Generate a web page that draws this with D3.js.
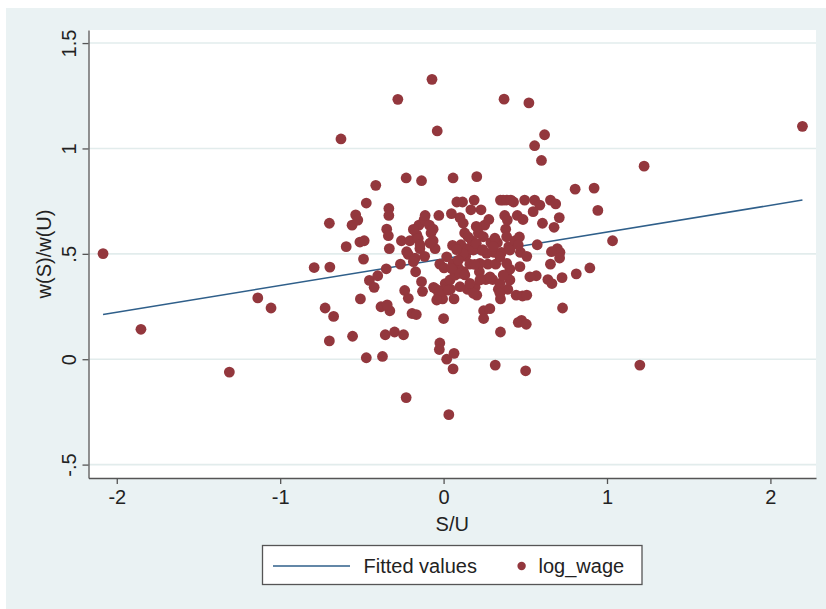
<!DOCTYPE html>
<html><head><meta charset="utf-8">
<script src="https://cdn.jsdelivr.net/npm/d3@7"></script>
<style>html,body{margin:0;padding:0;background:#fff}svg{display:block}</style>
</head><body>
<script>
// Scatter of w(S)/w(U) against S/U with a fitted regression line
const xVals = [
-2.084,-1.852,-1.311,-1.137,-1.056,-0.792,-0.725,-0.696,-0.699,-0.673,
-0.699,-0.628,-0.596,-0.560,-0.538,-0.525,-0.557,-0.509,-0.512,-0.486,
-0.490,-0.473,-0.473,-0.454,-0.425,-0.415,-0.403,-0.383,-0.374,-0.357,
-0.351,-0.335,-0.335,-0.332,-0.348,-0.338,-0.329,-0.345,-0.300,-0.280,
-0.264,-0.258,-0.245,-0.238,-0.229,-0.229,-0.216,-0.216,-0.206,-0.193,
-0.167,-0.171,-0.174,-0.164,-0.151,-0.145,-0.135,-0.135,-0.129,-0.119,
-0.116,-0.113,-0.087,-0.077,-0.071,-0.064,-0.064,-0.061,-0.052,-0.045,
-0.039,-0.029,-0.029,-0.023,-0.023,-0.026,-0.006,0.000,0.003,0.010,
0.019,0.032,0.042,0.048,0.055,0.058,0.058,0.064,0.064,0.074,
0.081,0.090,0.100,0.106,0.116,0.122,0.129,0.135,0.145,0.148,
0.161,0.167,0.174,0.187,0.193,0.203,0.203,0.213,0.219,0.229,
0.235,0.245,0.245,0.251,0.258,0.271,0.277,0.283,0.290,0.300,
0.309,0.316,0.319,0.329,0.335,0.348,0.348,0.348,0.354,0.364,
0.370,0.374,0.380,0.386,0.386,0.393,0.399,0.412,0.406,0.428,
0.438,0.444,0.451,0.457,0.464,0.470,0.477,0.483,0.486,0.496,
0.502,0.506,0.509,0.522,0.509,0.548,0.557,0.557,0.567,0.573,
0.589,0.599,0.605,0.618,0.638,0.654,0.654,0.663,0.676,0.686,
0.696,0.708,0.712,0.725,0.728,0.805,0.812,0.895,0.921,0.944,
1.034,1.201,1.227,2.196,
0.390,0.120,0.200,0.243,0.314,0.386,0.660,0.710,0.019,0.059,
0.182,0.222,0.263,0.304,0.345,0.386,0.406,0.467,0.528,0.406,
0.345,0.284,0.222,0.161,0.100,0.039,-0.002,0.345,0.182,-0.185,
-0.083,-0.155,-0.226,-0.144,-0.185,-0.022,0.029,0.070,0.100,-0.042,
0.365,0.457,0.120,0.150,0.190,0.080,0.050,0.130,0.200,0.240,0.090
];
const yVals = [
0.501,0.142,-0.061,0.291,0.243,0.435,0.243,0.437,0.645,0.203,
0.087,1.045,0.534,0.636,0.685,0.660,0.109,0.286,0.556,0.562,
0.475,0.741,0.007,0.374,0.341,0.825,0.396,0.249,0.013,0.116,
0.429,0.715,0.682,0.525,0.617,0.586,0.230,0.258,0.129,1.233,
0.451,0.562,0.116,0.326,0.860,-0.182,0.289,0.497,0.562,0.217,
0.212,0.415,0.479,0.590,0.636,0.525,0.847,0.368,0.322,0.663,
0.488,0.682,0.636,0.599,1.328,0.617,0.562,0.341,0.525,0.332,
1.083,0.682,0.304,0.451,0.077,0.046,0.286,0.193,0.433,0.359,
0.000,-0.263,0.332,0.691,0.540,0.860,-0.046,0.028,0.286,0.451,
0.746,0.433,0.672,0.543,0.746,0.415,0.599,0.488,0.332,0.525,
0.451,0.709,0.562,0.755,0.341,0.866,0.304,0.599,0.415,0.709,
0.516,0.230,0.193,0.636,0.378,0.451,0.663,0.240,0.553,0.378,
0.507,-0.028,0.451,0.553,0.332,0.755,0.286,0.129,0.507,0.755,
1.234,0.682,0.617,0.396,0.755,0.332,0.534,0.755,0.427,0.746,
0.562,0.304,0.682,0.175,0.580,0.507,0.184,0.300,0.663,0.755,
-0.055,0.166,0.488,1.216,0.304,0.700,1.013,0.755,0.396,0.543,
0.731,0.943,0.645,1.065,0.378,0.755,0.451,0.359,0.626,0.737,
0.525,0.672,0.507,0.387,0.243,0.807,0.405,0.433,0.812,0.706,
0.562,-0.028,0.916,1.105,
0.660,0.645,0.630,0.581,0.574,0.581,0.510,0.480,0.486,0.455,
0.518,0.455,0.502,0.534,0.486,0.455,0.518,0.439,0.391,0.376,
0.360,0.391,0.376,0.360,0.344,0.376,0.328,0.313,0.313,0.616,
0.551,0.573,0.510,0.542,0.463,0.320,0.328,0.399,0.407,0.281,
0.399,0.542,0.500,0.580,0.450,0.520,0.430,0.400,0.550,0.520,0.470
];
// Fitted values at the ends of the observed S/U range
const fitX = [-2.084, 2.196];
const fitY = [0.212, 0.755];

const xTicks = [-2, -1, 0, 1, 2];
const xTickLabels = ["-2", "-1", "0", "1", "2"];
const yTicks = [-0.5, 0, 0.5, 1, 1.5];
const yTickLabels = ["-.5", "0", ".5", "1", "1.5"];
const xTitle = "S/U";
const yTitle = "w(S)/w(U)";
const legendLabels = ["Fitted values", "log_wage"];

const W = 826, H = 609;
const plot = {left: 88.5, right: 816, top: 30, bottom: 478};
const FONT = "'Liberation Sans', Arial, Helvetica, sans-serif";
const FS = 20;
const lineColor = "#2f5f8a", dotColor = "#93373d", bg = "#eaf2f3";

const svg = d3.select("body").append("svg").attr("width", W).attr("height", H)
  .style("font-family", FONT);

svg.append("rect").attr("x", 0).attr("y", 0).attr("width", W).attr("height", H).attr("fill", "#ffffff");
svg.append("rect").attr("x", 6).attr("y", 8).attr("width", W - 6).attr("height", H - 8).attr("fill", bg);
svg.append("rect").attr("x", plot.left).attr("y", plot.top)
  .attr("width", plot.right - plot.left).attr("height", plot.bottom - plot.top).attr("fill", "#ffffff");

const x = d3.scaleLinear().domain([-2.173, 2.279]).range([plot.left, plot.right]);
const y = d3.scaleLinear().domain([-0.5636, 1.562]).range([plot.bottom, plot.top]);

// horizontal grid lines
svg.append("g").selectAll("line").data(yTicks).join("line")
  .attr("x1", plot.left).attr("x2", plot.right)
  .attr("y1", d => y(d)).attr("y2", d => y(d))
  .attr("stroke", "#e2ecec").attr("stroke-width", 1.6);

// fitted line
svg.append("path")
  .datum(fitX.map((v, i) => [v, fitY[i]]))
  .attr("d", d3.line().x(d => x(d[0])).y(d => y(d[1])))
  .attr("fill", "none").attr("stroke", lineColor).attr("stroke-width", 1.5);

// observations
svg.append("g").selectAll("circle").data(xVals.map((v, i) => [v, yVals[i]])).join("circle")
  .attr("cx", d => x(d[0])).attr("cy", d => y(d[1])).attr("r", 5.4)
  .attr("fill", dotColor);

// axes
const axisColor = "#555555";
const yAxis = svg.append("g").attr("transform", `translate(${plot.left},0)`)
  .call(d3.axisLeft(y).tickValues(yTicks).tickFormat((d, i) => yTickLabels[i]).tickSize(6).tickSizeOuter(0));
const xAxis = svg.append("g").attr("transform", `translate(0,${plot.bottom})`)
  .call(d3.axisBottom(x).tickValues(xTicks).tickFormat((d, i) => xTickLabels[i]).tickSize(6).tickSizeOuter(0));

[yAxis, xAxis].forEach(g => {
  g.select(".domain").attr("stroke", axisColor).attr("stroke-width", 1.3);
  g.selectAll(".tick line").attr("stroke", axisColor).attr("stroke-width", 1.3);
  g.selectAll(".tick text").attr("fill", "#222").style("font-size", FS + "px").style("font-family", FONT);
});
yAxis.selectAll(".tick text")
  .attr("x", null).attr("dy", null)
  .attr("text-anchor", "middle")
  .attr("transform", "translate(-12.5,0) rotate(-90)");
xAxis.selectAll(".tick text").attr("y", 12);

// axis titles
svg.append("text").attr("x", (plot.left + plot.right) / 2).attr("y", 531)
  .attr("text-anchor", "middle").attr("fill", "#222").style("font-size", FS + "px").text(xTitle);
svg.append("text").attr("transform", `translate(51,${(plot.top + plot.bottom) / 2}) rotate(-90)`)
  .attr("text-anchor", "middle").attr("fill", "#222").style("font-size", FS + "px").text(yTitle);

// legend
const lg = svg.append("g");
lg.append("rect").attr("x", 262.5).attr("y", 545.5).attr("width", 379.5).attr("height", 39)
  .attr("fill", "#ffffff").attr("stroke", "#555").attr("stroke-width", 1.3);
lg.append("line").attr("x1", 273).attr("x2", 350).attr("y1", 566).attr("y2", 566)
  .attr("stroke", lineColor).attr("stroke-width", 1.5);
lg.append("text").attr("x", 363.5).attr("y", 573).attr("fill", "#222")
  .style("font-size", FS + "px").text(legendLabels[0]);
lg.append("circle").attr("cx", 521.6).attr("cy", 566).attr("r", 4.2).attr("fill", dotColor);
lg.append("text").attr("x", 538.5).attr("y", 573).attr("fill", "#222")
  .style("font-size", FS + "px").text(legendLabels[1]);
</script>
</body></html>
